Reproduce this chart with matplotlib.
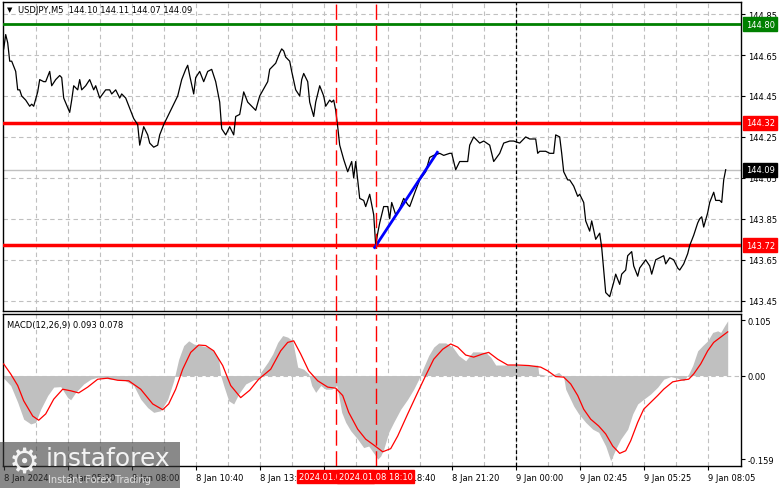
import matplotlib
matplotlib.use("Agg")
import matplotlib.pyplot as plt
import matplotlib.transforms as mtransforms
from matplotlib.patches import Rectangle

# USDJPY M5 closes (bar index, price)
price_bar = [0, 1, 2, 3, 4, 6, 7, 8, 9, 11, 13, 14, 15, 17, 18, 20, 21, 23, 24, 26, 28, 29, 30, 33, 34, 35,
             37, 38, 39, 41, 43, 45, 46, 48, 51, 53, 54, 56, 58, 59, 61, 63, 65, 67, 68, 70, 72, 73, 75, 77,
             78, 80, 82, 84, 87, 89, 91, 92, 93, 95, 96, 98, 100, 102, 104, 106, 108, 109, 111, 113, 115,
             116, 118, 120, 122, 124, 126, 128, 132, 133, 136, 138, 139, 140, 141, 143, 144, 146, 148, 149,
             150, 152, 153, 155, 156, 158, 160, 161, 163, 164, 165, 166, 167, 168, 170, 172, 174, 175, 176,
             177, 178, 180, 181, 183, 185, 186, 187, 188, 190, 192, 193, 194, 196, 198, 200, 202, 203, 206,
             208, 211, 213, 215, 218, 220, 223, 224, 226, 228, 230, 232, 233, 235, 238, 240, 243, 245, 248,
             250, 253, 255, 258, 259, 261, 263, 266, 267, 268, 271, 273, 275, 276, 278, 279, 280, 282, 283,
             285, 287, 288, 290, 291, 293, 294, 296, 298, 299, 300, 301, 303, 305, 306, 308, 309, 311, 312,
             314, 315, 317, 318, 321, 323, 324, 326, 328, 330, 331, 333, 335, 337, 338, 340, 342, 343, 345,
             347, 348, 349, 350, 352, 353, 355, 356, 358, 359, 360, 361]
price_val = [144.68, 144.75, 144.71, 144.62, 144.62, 144.57, 144.48, 144.48, 144.45, 144.43, 144.40, 144.41,
             144.40, 144.47, 144.53, 144.52, 144.52, 144.57, 144.50, 144.53, 144.55, 144.54, 144.44, 144.37,
             144.43, 144.50, 144.48, 144.53, 144.48, 144.50, 144.53, 144.48, 144.50, 144.44, 144.48, 144.48,
             144.46, 144.48, 144.44, 144.46, 144.44, 144.39, 144.34, 144.31, 144.21, 144.30, 144.26, 144.22,
             144.20, 144.21, 144.26, 144.31, 144.35, 144.39, 144.45, 144.53, 144.58, 144.60, 144.55, 144.46,
             144.54, 144.57, 144.52, 144.57, 144.58, 144.52, 144.42, 144.29, 144.26, 144.30, 144.26, 144.35,
             144.36, 144.47, 144.42, 144.40, 144.38, 144.45, 144.52, 144.58, 144.61, 144.66, 144.68, 144.67,
             144.64, 144.62, 144.57, 144.48, 144.45, 144.53, 144.56, 144.52, 144.42, 144.35, 144.42, 144.50,
             144.45, 144.40, 144.43, 144.42, 144.43, 144.38, 144.30, 144.21, 144.14, 144.08, 144.13, 144.05,
             144.13, 144.04, 143.95, 143.94, 143.91, 143.97, 143.87, 143.72, 143.78, 143.83, 143.91, 143.91,
             143.85, 143.93, 143.87, 143.90, 143.95, 143.92, 143.91, 143.99, 144.04, 144.08, 144.15, 144.16,
             144.17, 144.16, 144.17, 144.17, 144.09, 144.13, 144.13, 144.13, 144.21, 144.25, 144.22, 144.23,
             144.21, 144.13, 144.17, 144.22, 144.23, 144.23, 144.22, 144.23, 144.25, 144.24, 144.24, 144.17,
             144.18, 144.18, 144.17, 144.17, 144.26, 144.25, 144.17, 144.08, 144.04, 144.04, 144.01, 143.96,
             143.97, 143.93, 143.84, 143.79, 143.84, 143.75, 143.78, 143.71, 143.60, 143.49, 143.47, 143.54,
             143.58, 143.53, 143.58, 143.60, 143.67, 143.69, 143.62, 143.57, 143.61, 143.65, 143.62, 143.58,
             143.65, 143.66, 143.67, 143.63, 143.66, 143.65, 143.61, 143.60, 143.63, 143.68, 143.72, 143.77,
             143.83, 143.85, 143.86, 143.81, 143.88, 143.93, 143.98, 143.94, 143.94, 143.93, 144.04, 144.09]

# MACD(12,26,9) main (histogram) and signal line
macd_bar = [0, 3.5, 7, 10, 13.5, 16, 18.5, 22, 25, 28.5, 32, 33.5, 36, 40, 43.5, 47, 53.5, 60, 65, 68.5, 72,
            75, 78.5, 82, 85, 87.5, 90, 92.5, 95, 98.5, 102, 105, 107.5, 108.5, 110, 112.5, 115, 117.5, 121,
            125, 127.5, 128.5, 132, 134.5, 137, 139.5, 142, 144.5, 147, 150, 152.5, 154, 156, 158.5, 161, 164,
            166.5, 167.5, 169, 171, 173.5, 177, 180, 182.5, 185.5, 187, 188.5, 190, 192.5, 195, 198.5, 202,
            205, 207.5, 210, 212.5, 215, 217.5, 221, 224.5, 227.5, 231, 234.5, 237.5, 241, 243.5, 246, 250,
            257, 262.5, 267, 267.5, 272, 275, 277.5, 280, 281, 282.5, 285, 287.5, 291, 294.5, 297.5, 301,
            303.5, 306, 308.5, 312, 314.5, 317, 320, 323.5, 327, 330, 333.5, 337, 340, 342.5, 344.5, 347,
            349.5, 352, 354.5, 357, 358.5, 360.5, 362]
macd_val = [-0.005, -0.019, -0.051, -0.083, -0.092, -0.089, -0.064, -0.038, -0.022, -0.021, -0.042, -0.046,
            -0.032, -0.016, -0.007, -0.003, -0.007, -0.008, -0.019, -0.045, -0.061, -0.070, -0.067, -0.045,
            -0.010, 0.031, 0.057, 0.066, 0.060, 0.057, 0.054, 0.047, 0.031, 0.000, -0.019, -0.048, -0.054,
            -0.035, -0.016, -0.008, -0.007, 0.006, 0.025, 0.041, 0.063, 0.076, 0.073, 0.066, 0.016, 0.012,
            0.003, -0.019, -0.032, -0.019, -0.026, -0.026, -0.019, -0.038, -0.070, -0.089, -0.105, -0.121,
            -0.137, -0.134, -0.150, -0.159, -0.153, -0.140, -0.108, -0.089, -0.064, -0.045, -0.026, -0.007,
            0.016, 0.038, 0.054, 0.062, 0.062, 0.054, 0.038, 0.028, 0.045, 0.045, 0.044, 0.035, 0.020, 0.020,
            0.020, 0.019, 0.020, 0.003, 0.000, 0.002, 0.006, -0.003, -0.026, -0.038, -0.058, -0.073, -0.089,
            -0.102, -0.108, -0.134, -0.162, -0.140, -0.121, -0.102, -0.073, -0.054, -0.045, -0.035, -0.022,
            -0.007, -0.002, -0.005, -0.010, 0.003, 0.019, 0.047, 0.057, 0.066, 0.082, 0.085, 0.082, 0.095,
            0.104]
signal_bar = [0, 3.5, 7, 10, 14.5, 17.5, 21, 25, 29.5, 33.5, 37.5, 42, 47, 52, 57, 62.5, 68.5, 74.5, 79.5,
              82.5, 86, 89.5, 93.5, 97.5, 101, 105, 109.5, 113.5, 118.5, 123, 127.5, 133.5, 138.5, 142, 145,
              148.5, 152.5, 157, 162, 166, 169.5, 172.5, 177, 181, 185, 189.5, 193.5, 197, 202, 207, 211, 215,
              219.5, 223.5, 227, 231, 235, 239.5, 242.5, 247, 252, 257, 262.5, 268.5, 272, 276, 280, 283.5,
              287, 290, 293.5, 297.5, 301, 304.5, 308, 311, 313.5, 317, 320, 323.5, 327, 330, 334.5, 338.5,
              342.5, 345, 348.5, 352, 355, 358.5, 362]
signal_val = [0.022, 0.003, -0.019, -0.048, -0.077, -0.085, -0.073, -0.045, -0.026, -0.029, -0.033, -0.022,
              -0.007, -0.005, -0.009, -0.010, -0.026, -0.054, -0.065, -0.054, -0.026, 0.012, 0.044, 0.058,
              0.057, 0.047, 0.019, -0.019, -0.042, -0.028, -0.007, 0.012, 0.047, 0.063, 0.066, 0.041, 0.009,
              -0.010, -0.022, -0.024, -0.038, -0.070, -0.102, -0.121, -0.132, -0.145, -0.139, -0.115, -0.073,
              -0.032, 0.000, 0.031, 0.050, 0.060, 0.054, 0.039, 0.035, 0.041, 0.044, 0.031, 0.020, 0.020,
              0.019, 0.016, 0.009, -0.002, -0.003, -0.016, -0.038, -0.064, -0.083, -0.096, -0.111, -0.134,
              -0.148, -0.143, -0.124, -0.089, -0.064, -0.051, -0.038, -0.026, -0.012, -0.009, -0.007, 0.003,
              0.022, 0.047, 0.063, 0.073, 0.083]

# levels and markup
resistance = 144.80
levels_red = [144.32, 143.72]
last_price = 144.09
trend_bars = [185.5, 216.8]
trend_prices = [143.71, 144.175]
marker_bars = [166, 186]
marker_labels = ["2024.01.08 16:30", "2024.01.08 18:10"]
day_sep_bar = 256

price_ticks = [143.45, 143.65, 143.85, 144.05, 144.25, 144.45, 144.65, 144.85]
macd_ticks = [-0.159, 0.0, 0.105]
macd_tick_labels = ["-0.159", "0.00", "0.105"]
time_ticks = [0, 32, 64, 96, 128, 160, 192, 224, 256, 288, 320, 352]
time_labels = ["8 Jan 2024", "8 Jan 05:20", "8 Jan 08:00", "8 Jan 10:40", "8 Jan 13:20", "8 Jan 16:00",
               "8 Jan 18:40", "8 Jan 21:20", "9 Jan 00:00", "9 Jan 02:45", "9 Jan 05:25", "9 Jan 08:05"]
grid_bars = list(range(16, 368, 16))

FS = 6
GRID = dict(color="#c0c0c0", linewidth=0.8, linestyle=(0, (4, 3)), zorder=0)
W, H = 781, 489


def tag(ax, y, text, fc):
    trans = mtransforms.blended_transform_factory(ax.transAxes, ax.transData)
    ax.annotate(text, xy=(1.0, y), xycoords=trans, xytext=(3.5, 0), textcoords="offset points",
                ha="left", va="center", fontsize=FS, color="white", annotation_clip=False,
                bbox=dict(boxstyle="square,pad=0.3", fc=fc, ec=fc), zorder=10)


def main():
    fig = plt.figure(figsize=(W / 100, H / 100), dpi=100)
    ax1 = fig.add_axes([3 / W, 1 - 312 / H, 738 / W, 309 / H])
    ax2 = fig.add_axes([3 / W, 1 - 467 / H, 738 / W, 152 / H])
    xlim = (-0.35, 368.65)

    # --- price panel ---
    for b in grid_bars:
        ax1.axvline(b, **GRID)
    for p in price_ticks:
        ax1.axhline(p, **GRID)
    ax1.axhline(last_price, color="#c0c0c0", linewidth=1, zorder=1)
    ax1.axhline(resistance, color="#008000", linewidth=2, zorder=3)
    for lv in levels_red:
        ax1.axhline(lv, color="red", linewidth=2.5, zorder=3)
    ax1.plot(price_bar, price_val, color="black", linewidth=0.9, zorder=4)
    ax1.plot(trend_bars, trend_prices, color="blue", linewidth=2, zorder=5)
    ax1.set_xlim(*xlim)
    ax1.set_ylim(143.400, 144.909)
    ax1.yaxis.tick_right()
    ax1.set_yticks(price_ticks)
    ax1.set_yticklabels([f"{p:.2f}" for p in price_ticks])
    ax1.set_xticks([])
    ax1.tick_params(axis="y", labelsize=FS, length=3, pad=2, direction="out")
    tag(ax1, resistance, "144.80", "#008000")
    for lv in levels_red:
        tag(ax1, lv, f"{lv:.2f}", "red")
    tag(ax1, last_price, f"{last_price:.2f}", "black")
    ax1.text(0.006, 0.977, "\u25bc", transform=ax1.transAxes, fontsize=5, va="center", ha="left")
    ax1.text(0.021, 0.977, "USDJPY,M5  144.10 144.11 144.07 144.09", transform=ax1.transAxes,
             fontsize=FS, va="center", ha="left", color="black")

    # --- MACD panel ---
    for b in grid_bars:
        ax2.axvline(b, **GRID)
    ax2.axhline(0, **GRID)
    ax2.fill_between(macd_bar, 0, macd_val, color="#c0c0c0", linewidth=0, zorder=2)
    ax2.plot(signal_bar, signal_val, color="red", linewidth=0.9, zorder=4)
    ax2.set_xlim(*xlim)
    ax2.set_ylim(-0.172, 0.117)
    ax2.yaxis.tick_right()
    ax2.set_yticks(macd_ticks)
    ax2.set_yticklabels(macd_tick_labels)
    ax2.set_xticks(time_ticks)
    ax2.set_xticklabels(time_labels, ha="left")
    ax2.tick_params(axis="y", labelsize=FS, length=3, pad=2, direction="out")
    ax2.tick_params(axis="x", labelsize=FS, length=3, pad=2, direction="out")
    ax2.text(0.006, 0.93, "MACD(12,26,9) 0.093 0.078", transform=ax2.transAxes,
             fontsize=FS, va="center", ha="left")

    # vertical markers through both panels
    for ax in (ax1, ax2):
        for b in marker_bars:
            ax.axvline(b, color="red", linewidth=1, linestyle=(0, (11, 4)), zorder=6)
        ax.axvline(day_sep_bar, color="black", linewidth=0.9, linestyle=(0, (3, 2)), zorder=6)
        for s in ax.spines.values():
            s.set_color("black")
            s.set_linewidth(1)

    trans = mtransforms.blended_transform_factory(ax2.transData, ax2.transAxes)
    for b, lab in zip(marker_bars, marker_labels):
        ax2.text(b, -0.07, lab, transform=trans, ha="center", va="center", fontsize=FS, color="white",
                 bbox=dict(boxstyle="square,pad=0.2", fc="red", ec="red"), zorder=10, clip_on=False)

    # watermark
    fig.patches.append(Rectangle((0, 0), 180 / W, 46 / H, transform=fig.transFigure,
                                 fc="#3a3a3a", alpha=0.6, ec="none", zorder=20))
    fig.text(24 / W, 1 - 464 / H, "\u2699", fontsize=25, color="white", ha="center", va="center",
             zorder=21, alpha=0.9)
    fig.text(46 / W, 1 - 459 / H, "instaforex", fontsize=18, color="white", ha="left", va="center",
             zorder=21, alpha=0.9)
    fig.text(48 / W, 1 - 480 / H, "Instant Forex Trading", fontsize=7, color="#e8e8e8", ha="left",
             va="center", zorder=21, alpha=0.9)

    fig.savefig("out.png", dpi=100)
    plt.close(fig)


if __name__ == "__main__":
    main()
